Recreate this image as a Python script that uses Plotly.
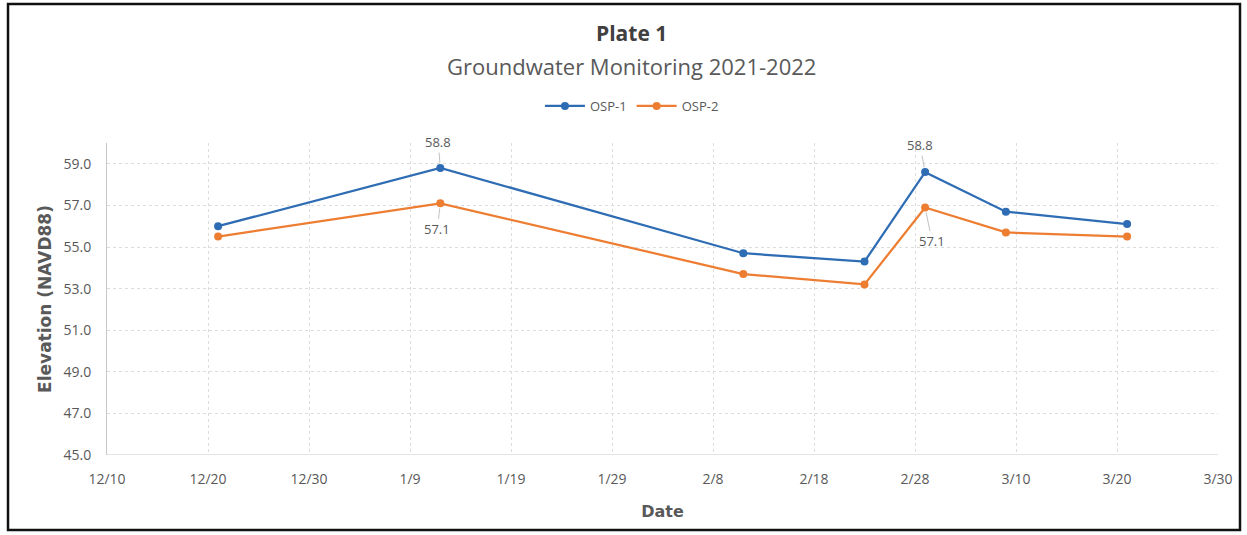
import plotly.graph_objects as go

dates = ["2021-12-21", "2022-01-12", "2022-02-11", "2022-02-23", "2022-03-01", "2022-03-09", "2022-03-21"]
osp1 = [56.0, 58.8, 54.7, 54.3, 58.6, 56.7, 56.1]
osp2 = [55.5, 57.1, 53.7, 53.2, 56.9, 55.7, 55.5]

# data labels shown in the reference: (series index, point index, text)
label_pts = [(0, 1, "58.8"), (1, 1, "57.1"), (0, 4, "58.8"), (1, 4, "57.1")]
label_offsets = [(-2, -26), (-3, 26), (-5, -27), (7, 34)]

blue = "#2E6DB4"
orange = "#ED7D31"
grey_txt = "#595959"
font_main = "Open Sans"
font_bold = "DejaVu Sans"

fig = go.Figure()
for name, vals, col in [("OSP-1", osp1, blue), ("OSP-2", osp2, orange)]:
    fig.add_trace(go.Scatter(
        x=dates, y=vals, name=name, mode="lines+markers",
        line=dict(color=col, width=2.25),
        marker=dict(color=col, size=8),
    ))

series = [osp1, osp2]
for (si, pi, txt), (ax, ay) in zip(label_pts, label_offsets):
    fig.add_annotation(
        x=dates[pi], y=series[si][pi], text=txt, showarrow=True,
        arrowhead=0, arrowwidth=0.7, arrowcolor="#A6A6A6", standoff=5,
        ax=ax, ay=ay, font=dict(family=font_main, size=13, color=grey_txt),
    )

fig.add_annotation(x=0.4725, y=1.3526, xref="paper", yref="paper", showarrow=False,
                   text="<b>Plate 1</b>", font=dict(family=font_main, size=21, color="#404040"),
                   yanchor="middle")
fig.add_annotation(x=0.4725, y=1.2468, xref="paper", yref="paper", showarrow=False,
                   text="Groundwater Monitoring 2021-2022",
                   font=dict(family=font_main, size=22, color=grey_txt), yanchor="middle")

# outer frame
fig.add_shape(type="rect", xref="paper", yref="paper", x0=-0.0891, x1=1.0198, y0=-0.240, y1=1.4455,
              line=dict(color="#111111", width=2.5), fillcolor="rgba(0,0,0,0)", layer="below")

fig.update_layout(
    width=1247, height=535,
    margin=dict(l=107, r=29, t=143, b=80),
    paper_bgcolor="white", plot_bgcolor="white",
    font=dict(family=font_main, color=grey_txt),
    showlegend=True,
    legend=dict(orientation="h", x=0.4725, xanchor="center", y=1.1186, yanchor="middle",
                font=dict(family=font_main, size=13, color=grey_txt), itemwidth=40,
                tracegroupgap=0),
    xaxis=dict(
        type="date", range=["2021-12-10", "2022-03-30"],
        tick0="2021-12-10", dtick=10 * 86400000, tickformat="%-m/%-d",
        showgrid=True, gridcolor="#DDDDDD", griddash="dot", gridwidth=1,
        showline=False, zeroline=False, ticks="", ticklabelstandoff=14,
        tickfont=dict(family=font_main, size=14, color=grey_txt),
        title=dict(text="<b>Date</b>", font=dict(family=font_bold, size=16, color=grey_txt), standoff=18),
    ),
    yaxis=dict(
        range=[45, 60], tick0=45, dtick=2, tickformat=".1f",
        showgrid=True, gridcolor="#DDDDDD", griddash="dot", gridwidth=1,
        showline=True, linecolor="#C8C8C8", linewidth=1, zeroline=False, ticks="",
        ticklabelstandoff=12,
        tickfont=dict(family=font_main, size=14, color=grey_txt),
        title=dict(text="<b>Elevation (NAVD88)</b>", font=dict(family=font_bold, size=17, color=grey_txt), standoff=7),
    ),
)
fig.add_hline(y=45, line=dict(color="#C8C8C8", width=1))

fig.write_html("out.html", config={"displayModeBar": False},
               post_script="document.body.style.margin='0';document.body.style.overflow='hidden';")
